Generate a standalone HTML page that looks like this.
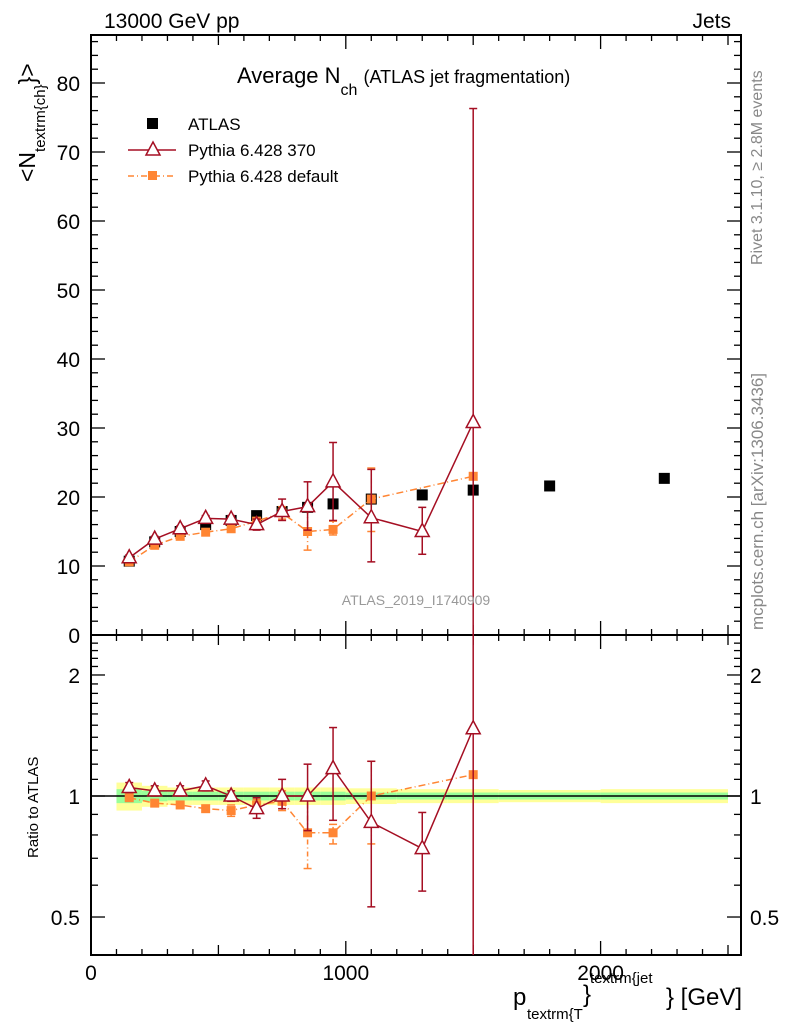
<!DOCTYPE html>
<html><head><meta charset="utf-8"><style>
body{margin:0;background:#fff;width:786px;height:1024px;overflow:hidden}
svg{font-family:"Liberation Sans",sans-serif}
</style></head><body>
<svg id="c" width="786" height="1024" xmlns="http://www.w3.org/2000/svg"></svg>
<script>
const xs=[150,250,350,450,550,650,750,850,950,1100,1300,1500,1800,2250];
const atlas=[10.7,13.5,15.0,16.0,16.6,17.3,17.9,18.5,19.0,19.7,20.3,21.0,21.6,22.7];
const p370X=[150,250,350,450,550,650,750,850,950,1100,1300,1500];
const p370=[11.2,13.9,15.4,16.9,16.8,16.0,17.9,18.6,22.2,17.0,15.0,30.8];
const p370Lo=[10.8,13.5,15.0,16.5,16.3,15.2,16.6,15.2,16.6,10.6,11.7,-5];
const p370Hi=[11.6,14.3,15.8,17.3,17.3,16.8,19.7,22.2,27.9,24.0,18.5,76.3];
const defX=[150,250,350,450,550,650,750,850,950,1100,1500];
const defV=[10.6,13.0,14.3,14.9,15.4,16.5,17.7,15.0,15.3,19.7,23.0];
const defLo=[10.4,12.8,14.1,14.6,15.0,16.0,16.8,12.3,14.5,15.0,22.6];
const defHi=[10.8,13.2,14.5,15.2,15.8,17.0,18.6,18.0,16.5,24.2,23.4];
const r370=[1.05,1.03,1.03,1.06,1.0,0.93,1.0,1.0,1.17,0.86,0.74,1.47];
const r370Lo=[1.02,1.0,1.0,1.03,0.97,0.88,0.93,0.82,0.87,0.53,0.58,0.2];
const r370Hi=[1.08,1.06,1.06,1.09,1.03,0.99,1.1,1.2,1.48,1.22,0.91,3];
const rDef=[0.99,0.96,0.95,0.93,0.92,0.95,0.97,0.81,0.81,1.0,1.13];
const rDefLo=[0.98,0.95,0.94,0.92,0.89,0.92,0.92,0.66,0.76,0.76,1.12];
const rDefHi=[1.0,0.97,0.96,0.94,0.95,0.98,1.03,0.99,0.85,1.22,1.14];
const bandEdges=[100,200,300,400,500,600,700,800,900,1000,1200,1400,1600,2000,2500];
const bandY=[0.08,0.06,0.05,0.05,0.05,0.05,0.05,0.05,0.05,0.045,0.04,0.04,0.035,0.04];
const bandG=[0.04,0.03,0.025,0.025,0.025,0.025,0.025,0.025,0.025,0.02,0.02,0.02,0.02,0.02];

const L=91,R=741,T=35,M=635,B=955;
const X=v=>L+v*0.2548;
const Y=v=>635-v*6.9;
const RY=r=>796-402*Math.log10(r);
const S=document.getElementById('c');const NS='http://www.w3.org/2000/svg';
function el(t,a,p){const e=document.createElementNS(NS,t);for(const k in a)e.setAttribute(k,a[k]);(p||S).appendChild(e);return e;}
function txt(s,a){const e=el('text',a);e.textContent=s;return e;}
function clampY(y,top,bot){return Math.max(top,Math.min(bot,y));}

for(let i=0;i<bandY.length;i++){
 const b=el('rect',{x:X(bandEdges[i]),width:X(bandEdges[i+1])-X(bandEdges[i]),y:RY(1+bandY[i]),height:RY(1-bandY[i])-RY(1+bandY[i]),fill:'#ffff99'});
 
 
 const g=el('rect',{x:X(bandEdges[i]),width:X(bandEdges[i+1])-X(bandEdges[i]),y:RY(1+bandG[i]),height:RY(1-bandG[i])-RY(1+bandG[i]),fill:'#99ff99'});
 
 
}
el('line',{x1:L,x2:R,y1:RY(1),y2:RY(1),stroke:'#000','stroke-width':1.5});

for(const [a,b] of [[T,M],[M,B]]){el('rect',{x:L,y:a,width:R-L,height:b-a,fill:'none',stroke:'#000','stroke-width':2});}
for(let v=0;v<=2500;v+=100){
 const big=v%500===0,len=v%1000===0?14:(big?10:6);
 for(const [a,b] of [[T,M],[M,B]]){
  el('line',{x1:X(v),x2:X(v),y1:b,y2:b-len,stroke:'#000','stroke-width':1.3});
  el('line',{x1:X(v),x2:X(v),y1:a,y2:a+len,stroke:'#000','stroke-width':1.3});
 }
}
for(const v of [0,1000,2000]) txt(String(v),{x:X(v),y:980,'font-size':21,'text-anchor':'middle'});
for(let v=0;v<=86;v+=2){const len=v%10===0?14:7;const y=Y(v);if(y<T)continue;
 el('line',{x1:L,x2:L+len,y1:y,y2:y,stroke:'#000','stroke-width':1.3});
 el('line',{x1:R,x2:R-len,y1:y,y2:y,stroke:'#000','stroke-width':1.3});
 if(v%10===0) txt(String(v),{x:80,y:y+8,'font-size':21,'text-anchor':'end'});}
const rt=[0.4,0.5,0.6,0.7,0.8,0.9,1,1.1,1.2,1.3,1.4,1.5,1.6,1.7,1.8,1.9,2,2.1,2.2,2.3,2.4];
for(const v of rt){const y=RY(v);if(y<M||y>B)continue;const maj=[0.5,1,2].includes(v);const len=maj?14:7;
 el('line',{x1:L,x2:L+len,y1:y,y2:y,stroke:'#000','stroke-width':1.3});
 el('line',{x1:R,x2:R-len,y1:y,y2:y,stroke:'#000','stroke-width':1.3});
 if(maj){const s=String(v);txt(s,{x:80,y:y+8,'font-size':21,'text-anchor':'end'});txt(s,{x:750,y:y+8,'font-size':21});}}

function ebar(x,lo,hi,col,top,bot,dash){
 const y1=clampY(lo,top,bot),y2=clampY(hi,top,bot);
 const a={x1:x,x2:x,y1:y1,y2:y2,stroke:col,'stroke-width':1.5};if(dash)a['stroke-dasharray']=dash;el('line',a);
 if(lo<bot) el('line',{x1:x-4,x2:x+4,y1:lo,y2:lo,stroke:col,'stroke-width':1.5});
 if(hi>top) el('line',{x1:x-4,x2:x+4,y1:hi,y2:hi,stroke:col,'stroke-width':1.5});
}
function tri(x,y,col){return el('polygon',{points:`${x},${y-8} ${x-7},${y+5} ${x+7},${y+5}`,fill:'#fff',stroke:col,'stroke-width':1.5});}
const RED='#a50f23',OR='#ff8533';

atlas.forEach((v,i)=>{const r=el('rect',{x:X(xs[i])-5.5,y:Y(v)-5.5,width:11,height:11,fill:'#000'});
 
 });
defX.forEach((x,i)=>ebar(X(x),Y(defLo[i]),Y(defHi[i]),OR,T,M,'5,3,1,3'));
const dp=el('polyline',{points:defX.map((x,i)=>X(x)+','+Y(defV[i])).join(' '),fill:'none',stroke:OR,'stroke-width':1.5,'stroke-dasharray':'7,3,1,3'});


defX.forEach((x,i)=>{const r=el('rect',{x:X(x)-4.5,y:Y(defV[i])-4.5,width:9,height:9,fill:OR});
 
 });
p370X.forEach((x,i)=>ebar(X(x),Y(p370Lo[i]),Y(p370Hi[i]),RED,T,M));
const pl=el('polyline',{points:p370X.map((x,i)=>X(x)+','+Y(p370[i])).join(' '),fill:'none',stroke:RED,'stroke-width':1.5});


p370X.forEach((x,i)=>{const t=tri(X(x),Y(p370[i]),RED);
 
 });

defX.forEach((x,i)=>ebar(X(x),RY(rDefLo[i]),RY(rDefHi[i]),OR,M,B,'5,3,1,3'));
el('polyline',{points:defX.map((x,i)=>X(x)+','+RY(rDef[i])).join(' '),fill:'none',stroke:OR,'stroke-width':1.5,'stroke-dasharray':'7,3,1,3'});
defX.forEach((x,i)=>{const r=el('rect',{x:X(x)-4.5,y:RY(rDef[i])-4.5,width:9,height:9,fill:OR});
 
 });
p370X.forEach((x,i)=>ebar(X(x),RY(r370Lo[i]),RY(r370Hi[i]),RED,M,B));
el('polyline',{points:p370X.map((x,i)=>X(x)+','+RY(r370[i])).join(' '),fill:'none',stroke:RED,'stroke-width':1.5});
p370X.forEach((x,i)=>{const t=tri(X(x),RY(r370[i]),RED);
 
 });
</script>
<svg width="786" height="1024" style="position:absolute;left:0;top:0" xmlns="http://www.w3.org/2000/svg">
<text x="104" y="28" font-size="21">13000 GeV pp</text>
<text x="731" y="28" font-size="21" text-anchor="end">Jets</text>
<text x="237" y="83" font-size="22">Average N<tspan font-size="16" dy="12">ch</tspan><tspan font-size="18" dy="-12" dx="6">(ATLAS jet fragmentation)</tspan></text>
<g font-size="17">
<rect x="147" y="118" width="11" height="11" fill="#000"/><text x="188" y="130">ATLAS</text>
<line x1="128" x2="176" y1="150" y2="150" stroke="#a50f23" stroke-width="1.5"/><polygon points="153,142 146,155 160,155" fill="#fff" stroke="#a50f23" stroke-width="1.5"/><text x="188" y="156">Pythia 6.428 370</text>
<line x1="128" x2="176" y1="176" y2="176" stroke="#ff8533" stroke-width="1.5" stroke-dasharray="6,3,1,3"/><rect x="148" y="171" width="9" height="9" fill="#ff8533"/><text x="188" y="182">Pythia 6.428 default</text>
</g>
<text x="416" y="605" font-size="14" fill="#999" text-anchor="middle">ATLAS_2019_I1740909</text>
<text transform="translate(35,182) rotate(-90)" font-size="23">&lt;N<tspan font-size="15" dy="10">textrm{ch}</tspan><tspan dy="-10">}&gt;</tspan></text>
<text transform="translate(38,858) rotate(-90)" font-size="15">Ratio to ATLAS</text>
<g>
<text x="513" y="1005" font-size="24">p</text>
<text x="527" y="1019" font-size="15">textrm{T</text>
<text x="583" y="1002" font-size="24">}</text>
<text x="590" y="983" font-size="15">textrm{jet</text>
<text x="666" y="1005" font-size="24">} [GeV]</text>
</g>
<text transform="translate(762,265) rotate(-90)" font-size="16" fill="#888">Rivet 3.1.10, ≥ 2.8M events</text>
<text transform="translate(763,630) rotate(-90)" font-size="17" fill="#888">mcplots.cern.ch [arXiv:1306.3436]</text>
</svg>
</body></html>
